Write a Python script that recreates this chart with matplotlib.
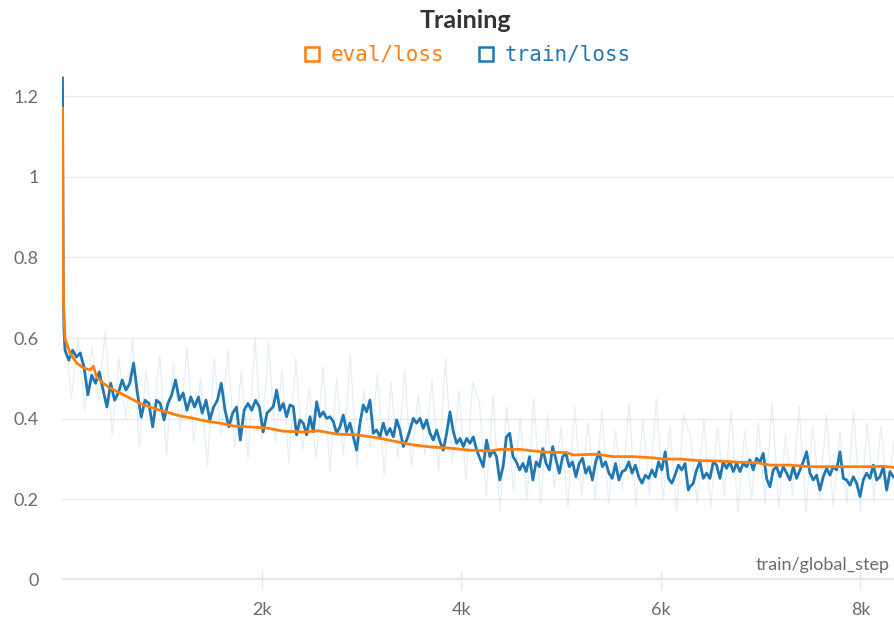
import numpy as np
import matplotlib
matplotlib.use("Agg")
import matplotlib.pyplot as plt
from matplotlib.lines import Line2D

# ---------------- data ----------------
title = "Training"
x_label = "train/global_step"
series_names = ["eval/loss", "train/loss"]
series_colors = ["#ff7f0e", "#1f77b4"]
x_ticks = [2000, 4000, 6000, 8000]
x_tick_labels = ["2k", "4k", "6k", "8k"]
y_ticks = [0, 0.2, 0.4, 0.6, 0.8, 1.0, 1.2]
y_tick_labels = ["0", "0.2", "0.4", "0.6", "0.8", "1", "1.2"]
x_max = 8346
y_max = 1.25

eval_steps = [0, 5, 10, 25, 75, 142, 209, 276, 309, 343, 409, 476, 576, 677, 777,
              877, 977, 1078, 1178, 1311, 1445, 1579, 1712, 1846, 2047, 2214,
              2414, 2565, 2749, 2949, 3150, 3350, 3517, 3684, 3885, 4085, 4285,
              4385, 4586, 4687, 4854, 5055, 5121, 5355, 5522, 5722, 5923, 6023,
              6190, 6391, 6591, 6792, 6959, 7093, 7293, 7494, 7694, 7895, 8095,
              8229, 8346]
eval_loss = [1.17, 0.80, 0.69, 0.60, 0.563, 0.538, 0.526, 0.521, 0.53, 0.503,
             0.488, 0.476, 0.464, 0.451, 0.438, 0.429, 0.421, 0.414, 0.407,
             0.401, 0.394, 0.389, 0.382, 0.380, 0.377, 0.369, 0.367, 0.37,
             0.362, 0.36, 0.353, 0.343, 0.335, 0.33, 0.327, 0.322, 0.32, 0.324,
             0.324, 0.321, 0.317, 0.316, 0.31, 0.312, 0.306, 0.306, 0.303, 0.30,
             0.30, 0.296, 0.295, 0.292, 0.291, 0.285, 0.285, 0.281, 0.281,
             0.281, 0.281, 0.282, 0.279]

# smoothed train loss (dark line), in segments of evenly spaced logged steps
train_head_steps = [0, 8, 15]
train_head_loss = [1.245, 0.72, 0.62]

train_seg1_range = (25, 2050)
train_seg1_loss = [0.570, 0.545, 0.57, 0.553, 0.563, 0.528, 0.459, 0.508, 0.488,
                   0.516, 0.471, 0.429, 0.488, 0.446, 0.464, 0.496, 0.471, 0.488,
                   0.538, 0.464, 0.404, 0.446, 0.438, 0.38, 0.446, 0.438, 0.397,
                   0.438, 0.459, 0.496, 0.446, 0.464, 0.421, 0.454, 0.429, 0.454,
                   0.414, 0.446, 0.397, 0.429, 0.446, 0.488, 0.421, 0.38, 0.414,
                   0.429, 0.347, 0.421, 0.438, 0.421, 0.446, 0.429, 0.367, 0.414]

train_seg2_range = (2113, 4152)
train_seg2_loss = [0.43, 0.471, 0.421, 0.438, 0.405, 0.434, 0.43, 0.36, 0.397,
                   0.389, 0.36, 0.405, 0.368, 0.442, 0.405, 0.417, 0.401, 0.405,
                   0.393, 0.364, 0.38, 0.409, 0.368, 0.389, 0.355, 0.322, 0.389,
                   0.434, 0.417, 0.446, 0.364, 0.372, 0.355, 0.389, 0.36, 0.376,
                   0.355, 0.397, 0.372, 0.331, 0.347, 0.372, 0.401, 0.389, 0.401,
                   0.376, 0.397, 0.364, 0.347, 0.372, 0.343, 0.322, 0.364, 0.417,
                   0.368, 0.339, 0.351, 0.331, 0.351, 0.339, 0.355, 0.322]

train_seg3_range = (4218, 6274)
train_seg3_loss = [0.281, 0.347, 0.306, 0.322, 0.306, 0.248, 0.281, 0.355, 0.364,
                   0.306, 0.293, 0.273, 0.289, 0.269, 0.306, 0.248, 0.293, 0.281,
                   0.326, 0.289, 0.273, 0.331, 0.298, 0.265, 0.306, 0.314, 0.281,
                   0.293, 0.256, 0.289, 0.302, 0.265, 0.281, 0.248, 0.293, 0.318,
                   0.281, 0.293, 0.265, 0.252, 0.289, 0.248, 0.269, 0.273, 0.293,
                   0.265, 0.285, 0.256, 0.24, 0.26, 0.252, 0.273, 0.256, 0.293,
                   0.273, 0.318, 0.252, 0.24, 0.26, 0.285, 0.273, 0.289, 0.223]

train_seg4_range = (6290, 8329)
train_seg4_loss = [0.231, 0.24, 0.273, 0.293, 0.252, 0.265, 0.252, 0.293, 0.285,
                   0.252, 0.293, 0.277, 0.293, 0.269, 0.289, 0.269, 0.289, 0.281,
                   0.298, 0.273, 0.302, 0.293, 0.314, 0.252, 0.231, 0.273, 0.281,
                   0.256, 0.281, 0.265, 0.248, 0.281, 0.252, 0.273, 0.293, 0.318,
                   0.265, 0.248, 0.26, 0.223, 0.256, 0.277, 0.26, 0.281, 0.273,
                   0.318, 0.252, 0.248, 0.235, 0.256, 0.24, 0.207, 0.248, 0.265,
                   0.252, 0.285, 0.248, 0.256, 0.281, 0.223, 0.269, 0.256]

# raw train loss (faint line), evenly spaced logged steps
train_raw_range = (20, 8340)
train_raw_loss = [0.64, 0.45, 0.60, 0.42, 0.58, 0.44, 0.62, 0.36, 0.55, 0.40,
                  0.60, 0.33, 0.52, 0.38, 0.56, 0.31, 0.54, 0.37, 0.58, 0.34,
                  0.50, 0.28, 0.55, 0.36, 0.57, 0.33, 0.52, 0.30, 0.60, 0.35,
                  0.59, 0.34, 0.52, 0.29, 0.55, 0.32, 0.48, 0.30, 0.53, 0.27,
                  0.50, 0.31, 0.56, 0.28, 0.47, 0.33, 0.51, 0.26, 0.49, 0.30,
                  0.52, 0.28, 0.46, 0.31, 0.50, 0.27, 0.55, 0.29, 0.47, 0.25,
                  0.49, 0.44, 0.21, 0.46, 0.17, 0.43, 0.22, 0.40, 0.20, 0.45,
                  0.19, 0.41, 0.23, 0.38, 0.18, 0.43, 0.21, 0.39, 0.20, 0.42,
                  0.19, 0.37, 0.22, 0.44, 0.18, 0.40, 0.21, 0.45, 0.20, 0.38,
                  0.17, 0.41, 0.36, 0.19, 0.40, 0.18, 0.38, 0.21, 0.42, 0.17,
                  0.37, 0.20, 0.39, 0.19, 0.44, 0.18, 0.36, 0.21, 0.43, 0.17,
                  0.38, 0.20, 0.41, 0.18, 0.37, 0.19, 0.42, 0.17, 0.39, 0.20,
                  0.38, 0.22, 0.35]

# ---------------- build series ----------------
segs = [(train_seg1_range, train_seg1_loss), (train_seg2_range, train_seg2_loss),
        (train_seg3_range, train_seg3_loss), (train_seg4_range, train_seg4_loss)]
train_steps = list(train_head_steps)
train_loss = list(train_head_loss)
for (a, b), vals in segs:
    train_steps += list(np.linspace(a, b, len(vals)))
    train_loss += list(vals)

raw_steps = list(train_head_steps) + list(np.linspace(*train_raw_range, len(train_raw_loss)))
raw_loss = list(train_head_loss) + list(train_raw_loss)

# ---------------- figure ----------------
plt.rcParams['font.family'] = ['Lato', 'DejaVu Sans']
W, H = 895, 626
fig = plt.figure(figsize=(W / 100, H / 100), dpi=100)
ax = fig.add_axes([62.5 / W, (H - 580) / H, (W - 62.5) / W, (580 - 76) / H])

grid_col = "#ececec"
text_col = "#6b6b75"
for yv in y_ticks[1:]:
    ax.axhline(yv, color=grid_col, lw=1.0, zorder=0)
ax.axhline(0, color="#e2e2e2", lw=2.6, zorder=1)

ax.plot(raw_steps, raw_loss, color=series_colors[1], alpha=0.11, lw=1.0, zorder=2)
ax.plot(train_steps, train_loss, color=series_colors[1], lw=2.0, zorder=3,
        solid_joinstyle="round")
ax.plot(eval_steps, eval_loss, color=series_colors[0], lw=2.0, zorder=4,
        solid_joinstyle="round")

ax.set_xlim(0, x_max)
ax.set_ylim(0, y_max)
for s in ax.spines.values():
    s.set_visible(False)

ax.set_xticks(x_ticks)
ax.set_xticklabels(x_tick_labels)
ax.set_yticks(y_ticks)
ax.set_yticklabels(y_tick_labels)
ax.tick_params(axis="x", direction="inout", length=13, width=1.0, color="#e6e6e6",
               pad=9, labelsize=13, labelcolor=text_col)
ax.tick_params(axis="y", length=0, pad=17, labelsize=13, labelcolor=text_col)

ax.text(0.994, 15 / 504, x_label, transform=ax.transAxes, ha="right", va="center",
        fontsize=13, color=text_col)

fig.text(0.52, 1 - 21 / H, title, ha="center", va="center", fontsize=18,
         fontweight="bold", color="#333333")

handles = [Line2D([], [], marker="s", ls="none", mfc="none", mec=c, ms=10, mew=1.8)
           for c in series_colors]
leg = fig.legend(handles, series_names, loc="center", bbox_to_anchor=(0.522, 1 - 55 / H),
                 ncol=2, frameon=False, handlelength=0.8, handletextpad=0.5,
                 columnspacing=1.6, prop={"family": "DejaVu Sans Mono", "size": 15})
for t, c in zip(leg.get_texts(), series_colors):
    t.set_color(c)

fig.savefig("out.png", dpi=100)
